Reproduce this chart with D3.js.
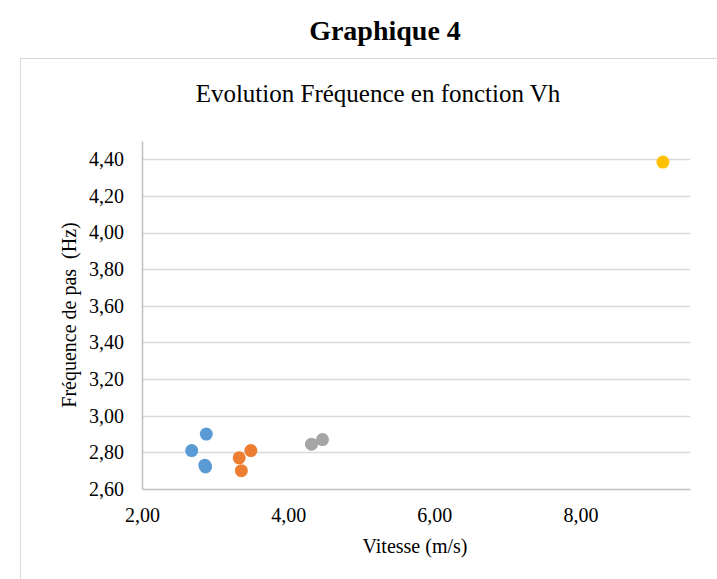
<!DOCTYPE html>
<html>
<head>
<meta charset="utf-8">
<title>Graphique 4</title>
<style>
  body { margin: 0; background: #fff; }
  svg text { font-family: "Liberation Serif", "Times New Roman", serif; fill: #000; }
</style>
</head>
<body>
<div id="chart"></div>
<script src="https://d3js.org/d3.v7.min.js"></script>
<script>
// data
var seriesNames = ['S1', 'S2', 'S3', 'S4'];
var seriesColors = ['#5B9BD5', '#ED7D31', '#A5A5A5', '#FFC000'];
var blueX = [2.88, 2.68, 2.87, 2.86];
var blueY = [2.90, 2.81, 2.72, 2.73];
var orangeX = [3.49, 3.33, 3.36];
var orangeY = [2.81, 2.77, 2.70];
var greyX = [4.32, 4.47];
var greyY = [2.845, 2.87];
var yellowX = [9.13];
var yellowY = [4.385];
var xTicks = [2, 4, 6, 8];
var yTicks = [2.6, 2.8, 3.0, 3.2, 3.4, 3.6, 3.8, 4.0, 4.2, 4.4];

var W = 717, H = 579;
var svg = d3.select('#chart').append('svg')
    .attr('width', W).attr('height', H);

// page title + chart frame
svg.append('text')
    .attr('x', 385).attr('y', 40)
    .attr('text-anchor', 'middle')
    .style('font-size', '28px').style('font-weight', 'bold')
    .text('Graphique 4');

svg.append('rect')
    .attr('x', 20.5).attr('y', 58.5)
    .attr('width', 720).attr('height', 540)
    .attr('fill', '#fff').attr('stroke', '#D9D9D9');

svg.append('text')
    .attr('x', 378).attr('y', 102)
    .attr('text-anchor', 'middle')
    .style('font-size', '25px')
    .text('Evolution Fréquence en fonction Vh');

var x = d3.scaleLinear().domain([2, 9.5]).range([142, 690]);
var y = d3.scaleLinear().domain([2.6, 4.5]).range([489, 141]);
var fmt = function(d) { return d3.format('.2f')(d).replace('.', ','); };

// gridlines
svg.append('g').selectAll('line')
    .data(yTicks.slice(1))
  .enter().append('line')
    .attr('x1', x(2)).attr('x2', x(9.5))
    .attr('y1', function(d) { return Math.round(y(d)) + 0.5; })
    .attr('y2', function(d) { return Math.round(y(d)) + 0.5; })
    .attr('stroke', '#D9D9D9').attr('stroke-width', 1.3);

// axes
var yAxis = svg.append('g')
    .attr('transform', 'translate(' + x(2) + ',0)')
    .call(d3.axisLeft(y).tickValues(yTicks).tickFormat(fmt).tickSize(0).tickPadding(18));
var xAxis = svg.append('g')
    .attr('transform', 'translate(0,' + y(2.6) + ')')
    .call(d3.axisBottom(x).tickValues(xTicks).tickFormat(fmt).tickSize(0).tickPadding(19));
[yAxis, xAxis].forEach(function(a) {
  a.select('.domain').attr('stroke', '#BFBFBF').attr('stroke-width', 1.5);
  a.selectAll('text').style('font-size', '20px').style('font-family', '"Liberation Serif", serif');
});

svg.append('text')
    .attr('x', 415).attr('y', 553)
    .attr('text-anchor', 'middle')
    .style('font-size', '20px')
    .text('Vitesse (m/s)');

svg.append('text')
    .attr('transform', 'translate(76,315) rotate(-90)')
    .attr('text-anchor', 'middle')
    .style('font-size', '20px')
    .style('white-space', 'pre')
    .text('Fréquence de pas  (Hz)');

// points
var series = [
  { xs: blueX, ys: blueY },
  { xs: orangeX, ys: orangeY },
  { xs: greyX, ys: greyY },
  { xs: yellowX, ys: yellowY }
];
series.forEach(function(s, i) {
  svg.append('g').attr('class', seriesNames[i])
    .selectAll('circle')
    .data(d3.zip(s.xs, s.ys))
  .enter().append('circle')
    .attr('cx', function(d) { return x(d[0]); })
    .attr('cy', function(d) { return y(d[1]); })
    .attr('r', 6.5)
    .attr('fill', seriesColors[i]);
});
</script>
</body>
</html>
